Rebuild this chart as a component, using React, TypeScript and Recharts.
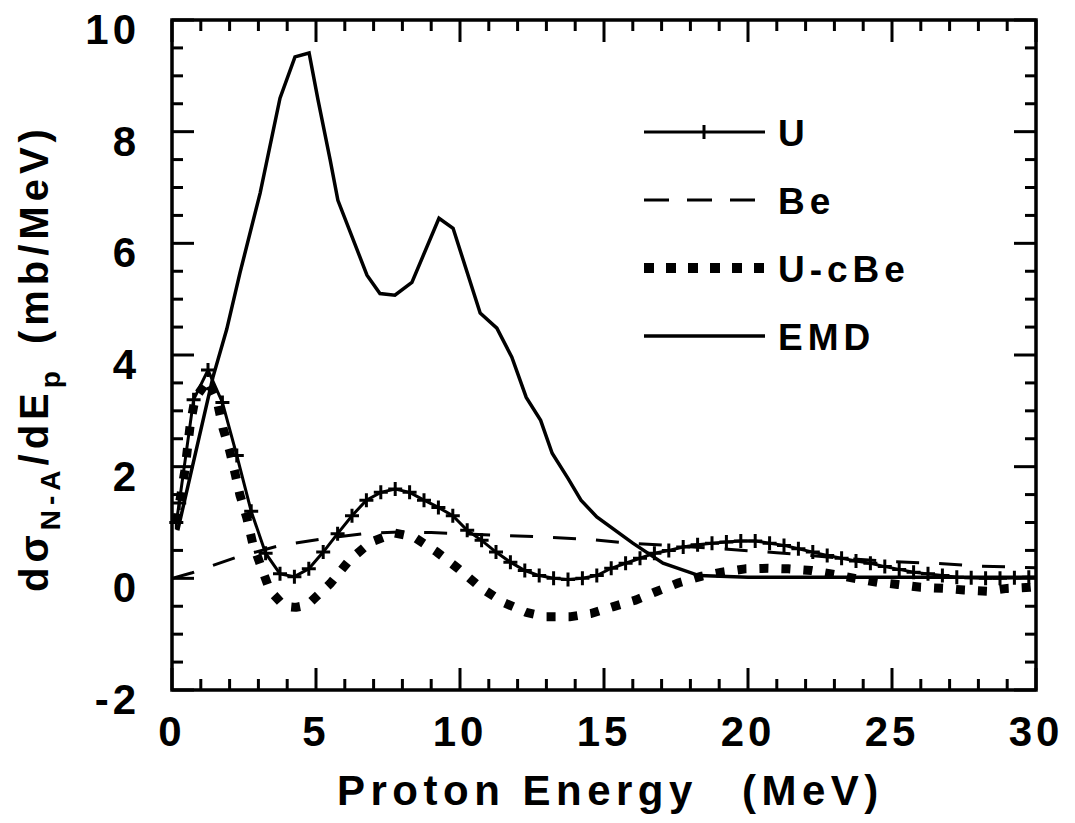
import React from "react"
import { LineChart, Line, XAxis, YAxis, ReferenceArea, Legend } from "recharts"

// proton energy (MeV) / d sigma / dE_p (mb/MeV)
const uPoints: [number, number][] = [
  [0.15, 1.0], [0.25, 1.35], [0.75, 3.2], [1.25, 3.73], [1.75, 3.15], [2.25, 2.2], [2.75, 1.2],
  [3.25, 0.45], [3.75, 0.08], [4.25, 0.03], [4.75, 0.17], [5.25, 0.47], [5.75, 0.8],
  [6.25, 1.12], [6.75, 1.4], [7.25, 1.54], [7.75, 1.6], [8.25, 1.54], [8.75, 1.4],
  [9.25, 1.27], [9.75, 1.12], [10.25, 0.86], [10.75, 0.68], [11.25, 0.47], [11.75, 0.29],
  [12.25, 0.14], [12.75, 0.05], [13.25, 0.0], [13.75, -0.02], [14.25, 0.0], [14.75, 0.05],
  [15.25, 0.18], [15.75, 0.27], [16.25, 0.36], [16.75, 0.45], [17.25, 0.5], [17.75, 0.56],
  [18.25, 0.6], [18.75, 0.63], [19.25, 0.65], [19.75, 0.67], [20.25, 0.67], [20.75, 0.63],
  [21.25, 0.59], [21.75, 0.53], [22.25, 0.47], [22.75, 0.41], [23.25, 0.36], [23.75, 0.31],
  [24.25, 0.27], [24.75, 0.21], [25.25, 0.16], [25.75, 0.11], [26.25, 0.08], [26.75, 0.05],
  [27.25, 0.02], [27.75, 0.01], [28.25, 0.0], [28.75, 0.0], [29.25, 0.01], [29.75, 0.02],
]

const bePoints: [number, number][] = [
  [0, 0], [0.7, 0.1], [2.25, 0.38], [3.75, 0.59], [5.4, 0.72], [6.8, 0.81], [7.9, 0.83],
  [9, 0.82], [11.4, 0.77], [12.9, 0.74], [14.4, 0.7], [15.9, 0.63], [17.5, 0.58],
  [19, 0.53], [21, 0.46], [23, 0.37], [25, 0.3], [26.5, 0.27], [28, 0.22], [30, 0.19],
]

const uMinusBePoints: [number, number][] = [
  [0.15, 1.0], [0.45, 1.94], [0.63, 2.74], [0.8, 3.22], [1.25, 3.55], [1.56, 3.19],
  [1.77, 2.69], [2.0, 2.29], [2.19, 1.88], [2.36, 1.49], [2.6, 1.08], [2.8, 0.63],
  [3.1, 0.2], [3.4, -0.22], [3.9, -0.5], [4.3, -0.52], [4.7, -0.48], [5.5, -0.09],
  [6.15, 0.32], [6.9, 0.65], [7.74, 0.81], [8.4, 0.74], [9.2, 0.47], [9.95, 0.17],
  [10.7, -0.16], [11.5, -0.43], [12.3, -0.61], [13.0, -0.69], [13.8, -0.69], [14.55, -0.63],
  [15.3, -0.51], [16.1, -0.39], [16.8, -0.24], [17.6, -0.08], [18.4, 0.04], [19.1, 0.11],
  [19.9, 0.17], [20.7, 0.18], [21.4, 0.17], [22.2, 0.14], [23.0, 0.07], [23.7, 0.0],
  [24.5, -0.07], [25.2, -0.11], [26.0, -0.16], [26.8, -0.18], [27.5, -0.21], [28.3, -0.23],
  [29.0, -0.18], [29.8, -0.16], [30, -0.15],
]

const emdPoints: [number, number][] = [
  [0.2, 0.86], [1.42, 3.6], [1.9, 4.46], [2.36, 5.47], [3.06, 6.9], [3.75, 8.6],
  [4.27, 9.34], [4.76, 9.41], [5.07, 8.57], [5.49, 7.5], [5.76, 6.77], [6.77, 5.43],
  [7.22, 5.1], [7.74, 5.07], [8.33, 5.3], [9.27, 6.45], [9.76, 6.27], [10.7, 4.75],
  [11.28, 4.48], [11.8, 3.96], [12.3, 3.24], [12.8, 2.83], [13.2, 2.24], [13.75, 1.79],
  [14.2, 1.4], [14.75, 1.1], [16.0, 0.63], [17.05, 0.27], [18.3, 0.05], [20, 0.02], [30, 0.02],
]

const seriesNames = ["U", "Be", "U-cBe", "EMD"]

const xTicks = [0, 1, 2, 3, 4, 5, 6, 7, 8, 9, 10, 11, 12, 13, 14, 15, 16, 17, 18, 19, 20,
  21, 22, 23, 24, 25, 26, 27, 28, 29, 30]
const xMajor = [0, 5, 10, 15, 20, 25, 30]
const yTicks = [-2, -1.5, -1, -0.5, 0, 0.5, 1, 1.5, 2, 2.5, 3, 3.5, 4, 4.5, 5, 5.5, 6, 6.5,
  7, 7.5, 8, 8.5, 9, 9.5, 10]
const yMajor = [-2, 0, 2, 4, 6, 8, 10]

const toRows = (pts: [number, number][]) => pts.map(([e, v]) => ({ e, v }))

const FONT = "'Liberation Sans', Arial, Helvetica, sans-serif"
const W = 1075
const H = 823
const AXIS_W = 60
const AXIS_H = 30
// plot frame: x 172..1036, y 20..690
const M = { top: 20, right: 39, bottom: 133 - AXIS_H, left: 172 - AXIS_W }
const PLOT_TOP = 20
const PLOT_RIGHT = 1036

function XTick(props: any) {
  const { x, y, payload } = props
  const major = xMajor.includes(payload.value)
  const len = major ? 22 : 11
  return (
    <g>
      <line x1={x} x2={x} y1={y} y2={y - len} stroke="#000" strokeWidth={3} />
      <line x1={x} x2={x} y1={PLOT_TOP} y2={PLOT_TOP + len} stroke="#000" strokeWidth={3} />
      {major && (
        <text x={x} y={y + 56} textAnchor="middle" fontFamily={FONT} fontWeight="bold"
          fontSize={42} letterSpacing={4} fill="#000">
          {payload.value}
        </text>
      )}
    </g>
  )
}

function YTick(props: any) {
  const { x, y, payload } = props
  const major = yMajor.includes(payload.value)
  const len = major ? 22 : 11
  return (
    <g>
      <line x1={x} x2={x + len} y1={y} y2={y} stroke="#000" strokeWidth={3} />
      <line x1={PLOT_RIGHT - len} x2={PLOT_RIGHT} y1={y} y2={y} stroke="#000" strokeWidth={3} />
      {major && (
        <text x={x - 32} y={y + 24} textAnchor="end" fontFamily={FONT} fontWeight="bold"
          fontSize={42} letterSpacing={4} fill="#000">
          {payload.value}
        </text>
      )}
    </g>
  )
}

function Cross(props: any) {
  const { cx, cy } = props
  return <path d={`M${cx - 7},${cy}h14M${cx},${cy - 7}v14`} stroke="#000" strokeWidth={3} />
}

function XTitle() {
  return (
    <text y={805} fontFamily={FONT} fontWeight="bold" fontSize={42} letterSpacing={5.5} fill="#000">
      <tspan x={337}>Proton Energy</tspan>
      <tspan x={742}>(MeV)</tspan>
    </text>
  )
}

function YTitle() {
  return (
    <text transform="translate(48,592) rotate(-90)" fontFamily={FONT} fontWeight="bold"
      fontSize={40} letterSpacing={5} fill="#000">
      <tspan>dσ</tspan>
      <tspan dy={12} fontSize={28}>N-A</tspan>
      <tspan dy={-12}>/dE</tspan>
      <tspan dy={12} fontSize={28}>p</tspan>
      <tspan dy={-12} dx={22}>(mb/MeV)</tspan>
    </text>
  )
}

const legendStyle: Record<string, { dash?: string; width: number }> = {
  U: { dash: undefined, width: 3 },
  Be: { dash: "25 18", width: 3 },
  "U-cBe": { dash: "10 12", width: 10 },
  EMD: { dash: undefined, width: 3.5 },
}

function LegendBox() {
  return (
    <svg width={360} height={280} style={{ display: "block" }}>
      {seriesNames.map((name, i) => {
        const st = legendStyle[name]
        const cy = 37 + i * 68
        return (
          <g key={name}>
            <line x1={14} x2={135} y1={cy} y2={cy} stroke="#000" strokeWidth={st.width}
              strokeDasharray={st.dash} />
            {name === "U" && <line x1={74} x2={74} y1={cy - 7} y2={cy + 7} stroke="#000" strokeWidth={3} />}
            <text x={148} y={cy + 14} fontFamily={FONT} fontWeight="bold" fontSize={37}
              letterSpacing={5} fill="#000">
              {name}
            </text>
          </g>
        )
      })}
    </svg>
  )
}

export default function App() {
  return (
    <div style={{ position: "absolute", left: 0, top: 0, background: "#fff" }}>
      <LineChart width={W} height={H} margin={M}>
        <XAxis dataKey="e" type="number" domain={[0, 30]} ticks={xTicks} interval={0}
          tickSize={0} tickMargin={0} height={AXIS_H} axisLine={false} tickLine={false}
          tick={(p: any) => <XTick {...p} />} />
        <YAxis type="number" domain={[-2, 10]} ticks={yTicks} interval={0}
          tickSize={0} tickMargin={0} width={AXIS_W} axisLine={false} tickLine={false}
          tick={(p: any) => <YTick {...p} />} />
        <ReferenceArea x1={0} x2={30} y1={-2} y2={10} fill="none" fillOpacity={0}
          stroke="#000" strokeWidth={3.5} />
        <Line data={toRows(uPoints)} dataKey="v" name={seriesNames[0]} type="linear"
          stroke="#000" strokeWidth={3} dot={(p: any) => <Cross key={"u" + p.index} {...p} />}
          isAnimationActive={false} />
        <Line data={toRows(bePoints)} dataKey="v" name={seriesNames[1]} type="linear"
          stroke="#000" strokeWidth={3} strokeDasharray="23 20" dot={false} isAnimationActive={false} />
        <Line data={toRows(uMinusBePoints)} dataKey="v" name={seriesNames[2]} type="linear"
          stroke="#000" strokeWidth={9} strokeDasharray="9 13" strokeLinejoin="bevel"
          dot={false} isAnimationActive={false} />
        <Line data={toRows(emdPoints)} dataKey="v" name={seriesNames[3]} type="linear"
          stroke="#000" strokeWidth={3.5} dot={false} isAnimationActive={false} />
        <Legend layout="vertical" align="center" verticalAlign="middle"
          wrapperStyle={{ left: 630, top: 95, width: 360, height: 280 }}
          content={() => <LegendBox />} />
      </LineChart>
      <svg width={W} height={H} style={{ position: "absolute", left: 0, top: 0, pointerEvents: "none" }}>
        <XTitle />
        <YTitle />
      </svg>
    </div>
  )
}
